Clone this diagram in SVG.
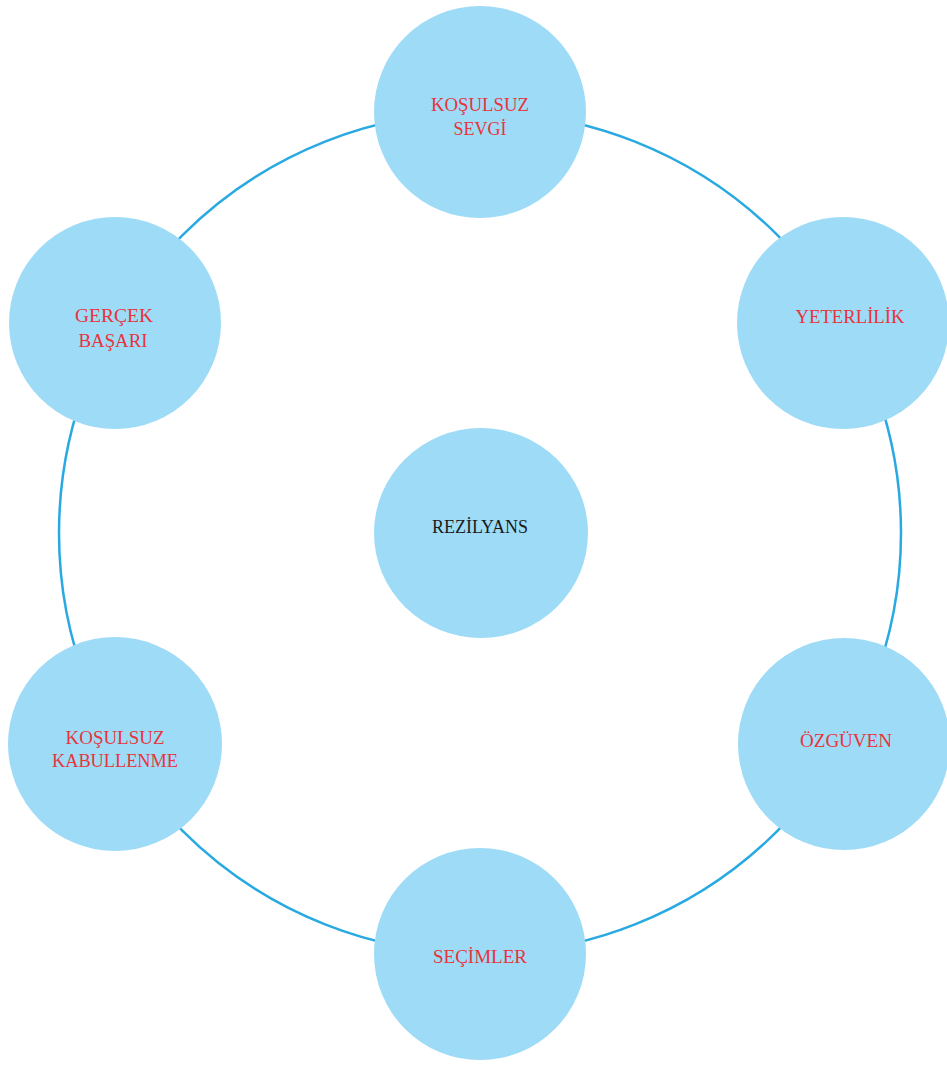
<svg xmlns="http://www.w3.org/2000/svg" width="947" height="1066" viewBox="0 0 947 1066">
<style>
.node{fill:#9DDBF7;}
.ring{fill:none;stroke:#29A9E1;stroke-width:2.5;}
.lbl{font-family:"Liberation Serif","DejaVu Serif",serif;font-size:18.5px;fill:#E8343A;text-anchor:middle;}
.dark{fill:#1a1a1a;}
</style>
<rect width="947" height="1066" fill="#FFFFFF"/>
<g id="connectors">
<circle class="ring" cx="480" cy="533" r="421"/>
</g>
<g id="node-kosulsuz-sevgi">
<circle class="node" cx="480" cy="112" r="106"/>
<text class="lbl" x="480" y="111" textLength="98" lengthAdjust="spacingAndGlyphs">KOŞULSUZ</text>
<text class="lbl" x="480" y="135" textLength="53" lengthAdjust="spacingAndGlyphs">SEVGİ</text>
</g>
<g id="node-yeterlilik">
<circle class="node" cx="843" cy="323" r="106"/>
<text class="lbl" x="850" y="323" textLength="109" lengthAdjust="spacingAndGlyphs">YETERLİLİK</text>
</g>
<g id="node-ozguven">
<circle class="node" cx="844" cy="744" r="106"/>
<text class="lbl" x="846" y="747" textLength="92" lengthAdjust="spacingAndGlyphs">ÖZGÜVEN</text>
</g>
<g id="node-secimler">
<circle class="node" cx="480" cy="954" r="106"/>
<text class="lbl" x="480" y="963" textLength="94" lengthAdjust="spacingAndGlyphs">SEÇİMLER</text>
</g>
<g id="node-kosulsuz-kabullenme">
<circle class="node" cx="115" cy="744" r="107"/>
<text class="lbl" x="115" y="744" textLength="99" lengthAdjust="spacingAndGlyphs">KOŞULSUZ</text>
<text class="lbl" x="115" y="767" textLength="126" lengthAdjust="spacingAndGlyphs">KABULLENME</text>
</g>
<g id="node-gercek-basari">
<circle class="node" cx="115" cy="323" r="106"/>
<text class="lbl" x="114" y="322" textLength="78" lengthAdjust="spacingAndGlyphs">GERÇEK</text>
<text class="lbl" x="113" y="347" textLength="69" lengthAdjust="spacingAndGlyphs">BAŞARI</text>
</g>
<g id="node-rezilyans">
<ellipse class="node" cx="481" cy="533" rx="107" ry="105"/>
<text class="lbl dark" x="480" y="533" textLength="96" lengthAdjust="spacingAndGlyphs">REZİLYANS</text>
</g>
</svg>
